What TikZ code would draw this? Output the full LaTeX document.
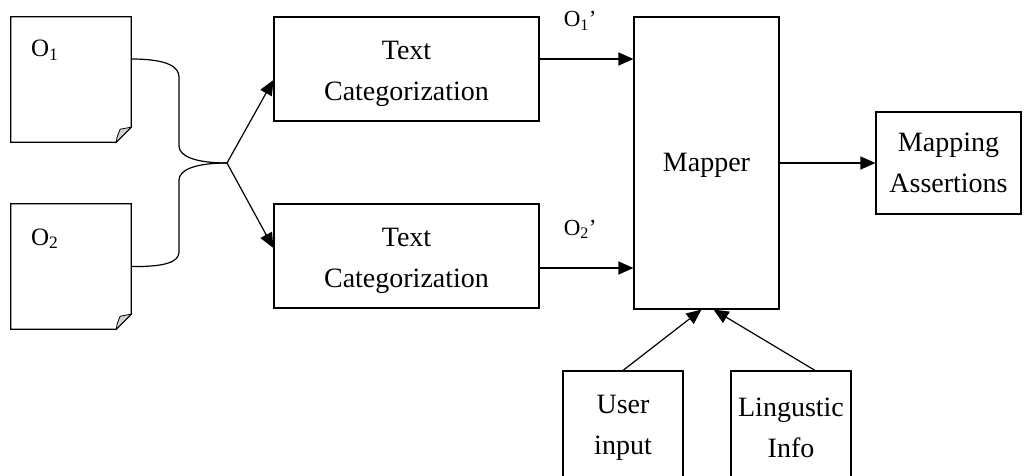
\documentclass[tikz,border=0pt]{standalone}
\usepackage{fontspec}
\setmainfont{Liberation Serif}
\usetikzlibrary{arrows.meta,positioning}
\tikzstyle{block}=[draw,line width=1.2pt,align=center,inner sep=0pt,font=\fontsize{28}{41}\selectfont]
\tikzstyle{doc}=[minimum width=120pt,minimum height=125pt,inner sep=0pt]
\tikzstyle{edge}=[draw,line width=1.2pt]
\tikzstyle{arr}=[draw,line width=1.2pt,-{Triangle[length=15pt,width=13pt]}]
\tikzstyle{lbl}=[anchor=base west,inner sep=0pt]
% page with a turned-up corner
\newcommand{\docpage}[1]{%
  \path[edge] (#1.north west) -- (#1.north east) -- ([yshift=15pt]#1.south east)
    -- ([xshift=-15pt]#1.south east) -- (#1.south west) -- cycle;
  \filldraw[fill=gray!35,line width=0.8pt] ([xshift=-15pt]#1.south east)
    .. controls ([xshift=-14pt,yshift=6pt]#1.south east) .. ([xshift=-11pt,yshift=13pt]#1.south east)
    -- ([yshift=15pt]#1.south east) -- cycle;}

\begin{document}
\begin{tikzpicture}[x=1pt,y=1pt]
    \clip (0,0) rectangle (1032,475);
    % the two ontologies
    \node[doc] (o1) at (71,395.5) {};
    \node[doc] (o2) at (71,208.5) {};
    \docpage{o1}
    \docpage{o2}
    \node[lbl,font=\fontsize{25}{30}\selectfont] (o1lab) at ([xshift=20pt,yshift=22.5pt]o1.west) {O\textsubscript{1}};
    \node[lbl,font=\fontsize{25}{30}\selectfont] (o2lab) at ([xshift=20pt,yshift=21.5pt]o2.west) {O\textsubscript{2}};
    % the boxes
    \node[block,minimum width=265pt,minimum height=104pt] (tc1) at (406.5,406) {\strut Text\\Categorization};
    \node[block,minimum width=265pt,minimum height=104pt] (tc2) at (406.5,219) {\strut Text\\Categorization};
    \node[block,minimum width=145pt,minimum height=292pt] (mapper) at (706.5,312) {\strut Mapper};
    \node[block,minimum width=145pt,minimum height=102pt] (ma) at (948.5,312) {Mapping\\Assertions};
    \node[block,minimum width=120pt,minimum height=114pt] (user) at (623,47) {User\\input};
    \node[block,minimum width=120pt,minimum height=114pt] (ling) at (791,47) {Lingustic\\Info};
    % brace joining the two pages
    \coordinate (jn) at (227,312);
    \coordinate (o1out) at ([yshift=20.5pt]o1.east);
    \coordinate (o2out) at (o2.east);
    \path[edge] (o1out) .. controls (170,416) and (179,407) .. (179,398) -- (179,329)
        .. controls (179,319) and (195,312) .. (jn);
    \path[edge] (jn) .. controls (195,312) and (179,305) .. (179,295) -- (179,223)
        .. controls (179,213) and (165,208) .. (o2out);
    \path[arr] (jn) -- ([yshift=-11pt]tc1.west);
    \path[arr] (jn) -- ([yshift=8pt]tc2.west);
    % into the mapper
    \coordinate (t1out) at ([yshift=10pt]tc1.east);
    \coordinate (t2out) at ([yshift=-12pt]tc2.east);
    \path[arr] (t1out) -- (t1out -| mapper.west);
    \path[arr] (t2out) -- (t2out -| mapper.west);
    \node[lbl,font=\fontsize{23}{27}\selectfont] (o1p) at ([xshift=24pt,yshift=32pt]t1out) {O\textsubscript{1}’};
    \node[lbl,font=\fontsize{23}{27}\selectfont] (o2p) at ([xshift=24pt,yshift=33pt]t2out) {O\textsubscript{2}’};
    \path[arr] (mapper.east) -- (ma.west);
    \path[arr] (user.north) -- ([xshift=-5pt]mapper.south);
    \path[arr] ([xshift=24pt]ling.north) -- ([xshift=7pt]mapper.south);
\end{tikzpicture}
\end{document}
